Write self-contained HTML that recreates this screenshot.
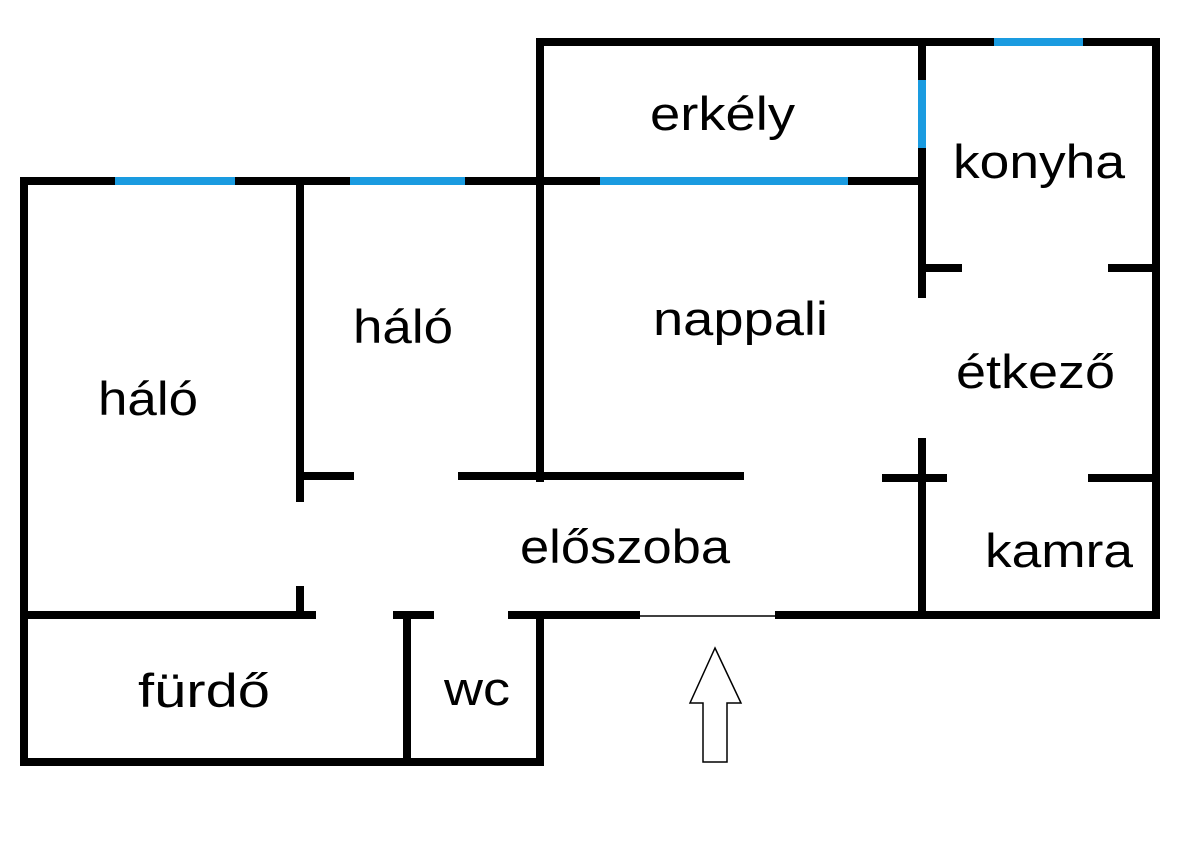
<!DOCTYPE html>
<html><head><meta charset="utf-8"><style>html,body{margin:0;padding:0;background:#fff}svg{display:block}</style></head>
<body>
<svg width="1200" height="852" viewBox="0 0 1200 852" xmlns="http://www.w3.org/2000/svg">
<g stroke="#000" stroke-width="8" fill="none" stroke-linecap="square">
<line x1="24" y1="181" x2="918" y2="181"/>
<line x1="540" y1="42" x2="1156" y2="42"/>
<line x1="24" y1="181" x2="24" y2="762"/>
<line x1="540" y1="42" x2="540" y2="478"/>
<line x1="922" y1="42" x2="922" y2="294"/>
<line x1="1156" y1="42" x2="1156" y2="615"/>
<line x1="300" y1="181" x2="300" y2="498"/>
<line x1="300" y1="476" x2="350" y2="476"/>
<line x1="462" y1="476" x2="740" y2="476"/>
<line x1="926" y1="268" x2="958" y2="268"/>
<line x1="1112" y1="268" x2="1156" y2="268"/>
<line x1="922" y1="442" x2="922" y2="615"/>
<line x1="886" y1="478" x2="943" y2="478"/>
<line x1="1092" y1="478" x2="1156" y2="478"/>
<line x1="24" y1="615" x2="312" y2="615"/>
<line x1="300" y1="590" x2="300" y2="615"/>
<line x1="397" y1="615" x2="430" y2="615"/>
<line x1="512" y1="615" x2="636" y2="615"/>
<line x1="779" y1="615" x2="1156" y2="615"/>
<line x1="407" y1="615" x2="407" y2="762"/>
<line x1="540" y1="615" x2="540" y2="762"/>
<line x1="24" y1="762" x2="540" y2="762"/>
</g>
<line x1="636" y1="616" x2="779" y2="616" stroke="#000" stroke-width="1.5"/>
<g stroke="#1a9be0" stroke-width="8">
<line x1="115" y1="181" x2="235" y2="181"/>
<line x1="350" y1="181" x2="465" y2="181"/>
<line x1="600" y1="181" x2="848" y2="181"/>
<line x1="994" y1="42" x2="1083" y2="42"/>
<line x1="922" y1="80" x2="922" y2="148"/>
</g>
<polygon points="715,648 741,703 727,703 727,762 703,762 703,703 690,703" fill="#fff" stroke="#000" stroke-width="1.5"/>
<g font-family="Liberation Sans, DejaVu Sans, sans-serif" font-size="47" fill="#000">
<text x="98" y="415" textLength="100" lengthAdjust="spacingAndGlyphs">háló</text>
<text x="353" y="343" textLength="100" lengthAdjust="spacingAndGlyphs">háló</text>
<text x="653" y="335" textLength="175" lengthAdjust="spacingAndGlyphs">nappali</text>
<text x="650" y="130" textLength="145" lengthAdjust="spacingAndGlyphs">erkély</text>
<text x="953" y="178" textLength="172" lengthAdjust="spacingAndGlyphs">konyha</text>
<text x="956" y="388" textLength="159" lengthAdjust="spacingAndGlyphs">étkező</text>
<text x="985" y="567" textLength="148" lengthAdjust="spacingAndGlyphs">kamra</text>
<text x="520" y="563" textLength="210" lengthAdjust="spacingAndGlyphs">előszoba</text>
<text x="138" y="707" textLength="132" lengthAdjust="spacingAndGlyphs">fürdő</text>
<text x="444" y="705" textLength="66" lengthAdjust="spacingAndGlyphs">wc</text>
</g>
</svg>
</body></html>
